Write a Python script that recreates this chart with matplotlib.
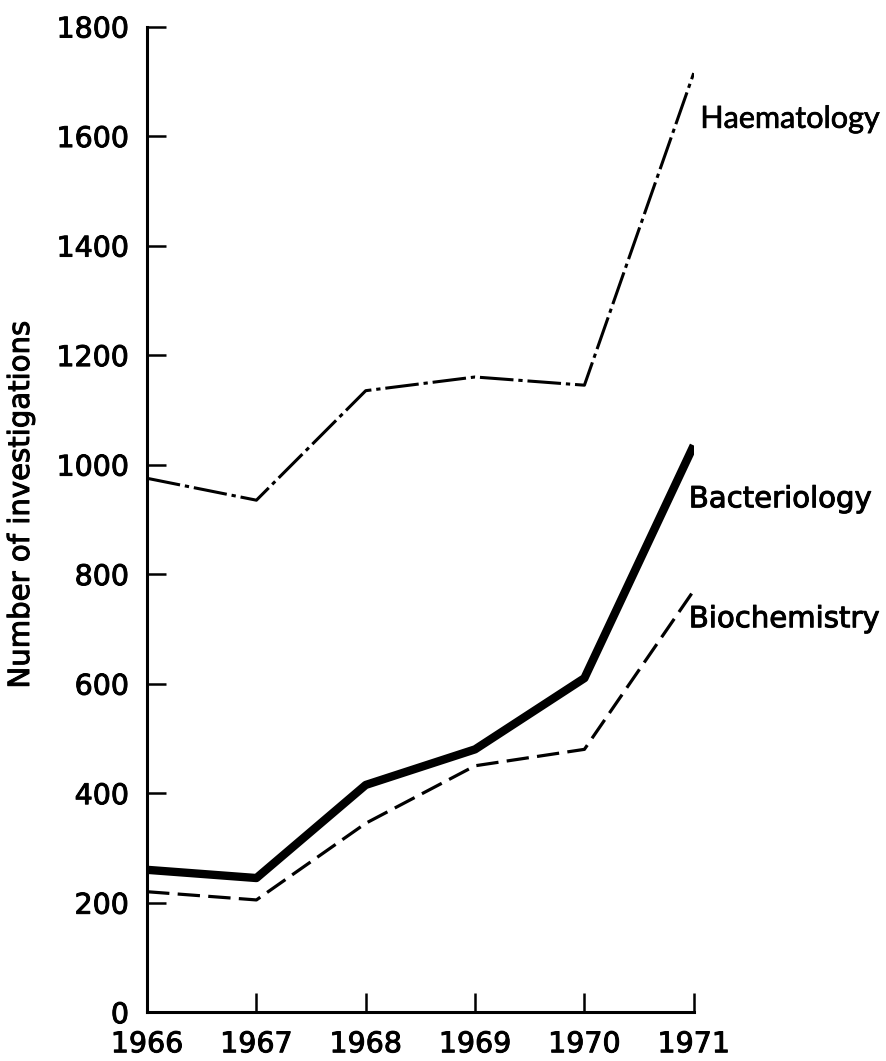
import matplotlib.pyplot as plt
import matplotlib.patheffects as pe

years = [1966, 1967, 1968, 1969, 1970, 1971]
haematology = [975, 935, 1135, 1160, 1145, 1715]
bacteriology = [260, 245, 415, 480, 610, 1035]
biochemistry = [220, 205, 345, 450, 480, 770]

plt.rcParams['font.family'] = ['DejaVu Sans']

# slightly heavier strokes, like the printed figure
heavy = [pe.withStroke(linewidth=0.7, foreground='black')]

fig = plt.figure(figsize=(8.86, 10.61), dpi=100)
ax = fig.add_axes([0.166, 0.046, 0.617, 0.929])

ax.plot(years, haematology, color='black', linewidth=2.2, linestyle=(0, (11, 1.6, 1.4, 1.6)))
ax.plot(years, bacteriology, color='black', linewidth=6.0, solid_capstyle='butt')
ax.plot(years, biochemistry, color='black', linewidth=2.3, linestyle=(0, (7, 2.6)))

# labels beside line ends
ax.text(1971.06, 1615, 'Haematology', fontsize=22, family='Lato', va='baseline', ha='left',
        path_effects=[pe.withStroke(linewidth=0.5, foreground='black')])
ax.text(1970.955, 922, 'Bacteriology', fontsize=21, va='baseline', ha='left', path_effects=heavy)
ax.text(1970.955, 703, 'Biochemistry', fontsize=21, va='baseline', ha='left', path_effects=heavy)

ax.set_xlim(1966, 1971)
ax.set_ylim(0, 1800)
ax.set_xticks(years)
ax.set_yticks(range(0, 1801, 200))
ax.spines['top'].set_visible(False)
ax.spines['right'].set_visible(False)
ax.spines['left'].set_linewidth(2.2)
ax.spines['bottom'].set_linewidth(2.2)
ax.tick_params(direction='in', length=14, width=1.8, labelsize=20.5, pad=13)
for lbl in ax.get_xticklabels() + ax.get_yticklabels():
    lbl.set_path_effects(heavy)
ax.set_ylabel('Number of investigations', fontsize=21, path_effects=heavy)
ax.yaxis.set_label_coords(-0.205, 0.515)

for spine in ax.spines.values():
    spine.set_clip_on(False)

fig.savefig('out.png', dpi=100)
